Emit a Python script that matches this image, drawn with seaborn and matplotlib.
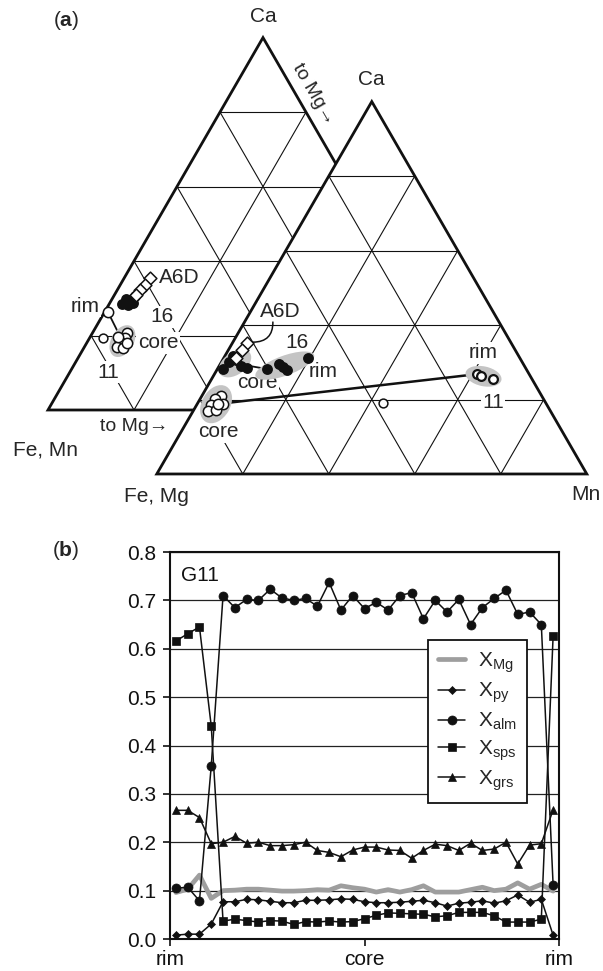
import numpy as np
import matplotlib
matplotlib.use("Agg")
import matplotlib.pyplot as plt
from matplotlib.patches import Polygon, Ellipse
import seaborn as sns

sns.set_theme(style="white")
plt.rcParams["font.family"] = ["Liberation Sans", "DejaVu Sans"]
plt.rcParams["mathtext.fontset"] = "custom"
plt.rcParams["mathtext.rm"] = "Liberation Sans"
plt.rcParams["mathtext.it"] = "Liberation Sans:italic"
plt.rcParams["mathtext.bf"] = "Liberation Sans:bold"

FS = 15
INK = "#111111"

# ---------------------------------------------------------------------------
# (b) garnet G11 profile, rim -> core -> rim
positions = list(range(33))
x_mg = [0.096, 0.103, 0.132, 0.084, 0.100, 0.101, 0.103, 0.103, 0.101, 0.099,
        0.099, 0.100, 0.102, 0.101, 0.110, 0.106, 0.103, 0.097, 0.102, 0.097,
        0.102, 0.110, 0.097, 0.097, 0.097, 0.102, 0.107, 0.100, 0.103, 0.116,
        0.103, 0.113, 0.099]
x_py = [0.008, 0.010, 0.010, 0.031, 0.077, 0.077, 0.082, 0.081, 0.078, 0.075,
        0.075, 0.080, 0.080, 0.081, 0.083, 0.082, 0.077, 0.075, 0.075, 0.076,
        0.078, 0.080, 0.075, 0.068, 0.074, 0.076, 0.079, 0.074, 0.079, 0.091,
        0.076, 0.082, 0.008]
x_alm = [0.105, 0.107, 0.079, 0.358, 0.710, 0.685, 0.702, 0.700, 0.723, 0.705,
         0.700, 0.704, 0.688, 0.737, 0.680, 0.710, 0.683, 0.696, 0.680, 0.710,
         0.716, 0.662, 0.700, 0.676, 0.702, 0.650, 0.685, 0.704, 0.721, 0.671,
         0.676, 0.650, 0.112]
x_sps = [0.616, 0.631, 0.645, 0.440, 0.037, 0.041, 0.038, 0.035, 0.038, 0.037,
         0.030, 0.036, 0.035, 0.037, 0.035, 0.036, 0.042, 0.049, 0.054, 0.053,
         0.052, 0.051, 0.046, 0.048, 0.055, 0.055, 0.055, 0.048, 0.035, 0.035,
         0.035, 0.041, 0.626]
x_grs = [0.266, 0.266, 0.251, 0.197, 0.200, 0.212, 0.198, 0.200, 0.193, 0.193,
         0.195, 0.200, 0.183, 0.179, 0.170, 0.184, 0.190, 0.190, 0.184, 0.183,
         0.167, 0.183, 0.196, 0.193, 0.183, 0.198, 0.183, 0.186, 0.200, 0.155,
         0.194, 0.197, 0.267]
profile_labels = ["rim", "core", "rim"]
y_ticks = [0.0, 0.1, 0.2, 0.3, 0.4, 0.5, 0.6, 0.7, 0.8]

# ---------------------------------------------------------------------------
# (a) ternary compositions as (Ca fraction, right-corner fraction)
# left diagram: Ca - (Fe, Mn) - Mg ; right diagram: Ca - (Fe, Mg) - Mn
l_a6d_ca = [0.354, 0.336, 0.322, 0.309]
l_a6d_r = [0.060, 0.058, 0.053, 0.050]
l_16_ca = [0.285, 0.282, 0.295, 0.306, 0.298, 0.287]
l_16_r = [0.030, 0.045, 0.045, 0.049, 0.032, 0.054]
l_rim_ca = [0.263]
l_rim_r = [0.008]
l_single_ca = [0.193]
l_single_r = [0.031]
l_core_ca = [0.207, 0.193, 0.183, 0.169, 0.167, 0.196, 0.180]
l_core_r = [0.080, 0.082, 0.076, 0.076, 0.091, 0.065, 0.094]

r_a6d_ca = [0.352, 0.333, 0.312]
r_a6d_r = [0.034, 0.032, 0.029]
r_16core_ca = [0.282, 0.301, 0.306, 0.290, 0.285, 0.317]
r_16core_r = [0.013, 0.018, 0.031, 0.051, 0.068, 0.019]
r_16rim_ca = [0.282, 0.295, 0.287, 0.279, 0.312]
r_16rim_r = [0.115, 0.137, 0.150, 0.163, 0.196]
r_11core_ca = [0.209, 0.201, 0.185, 0.169, 0.172, 0.188, 0.188]
r_11core_r = [0.045, 0.035, 0.034, 0.035, 0.052, 0.060, 0.048]
r_11rim_ca = [0.268, 0.264, 0.255]
r_11rim_r = [0.610, 0.622, 0.654]
r_single_ca = [0.191]
r_single_r = [0.431]

H = np.sqrt(3) / 2
ORIGIN_L = (0.0, 0.0)
ORIGIN_R = (0.253, -0.1488)


def tern(ca, r, origin):
    ca = np.asarray(ca, dtype=float)
    r = np.asarray(r, dtype=float)
    return origin[0] + r + ca / 2, origin[1] + ca * H


fig = plt.figure(figsize=(6.03, 9.71), dpi=100)

# ------------------------------- panel (a) ---------------------------------
ax_t = fig.add_axes([0, 1 - 520 / 971, 1, 520 / 971])
ax_t.set_xlim(-48 / 430, 555 / 430)
ax_t.set_ylim(-110 / 430, 410 / 430)
ax_t.axis("off")


def draw_triangle(origin, z):
    corners = np.array([tern(0, 0, origin), tern(0, 1, origin), tern(1, 0, origin)])
    ax_t.add_patch(Polygon(corners, closed=True, facecolor="white",
                           edgecolor="none", zorder=z))
    for k in range(1, 5):
        f = k / 5
        for (a1, r1), (a2, r2) in [((f, 0), (f, 1 - f)),
                                   ((0, f), (1 - f, f)),
                                   ((0, 1 - f), (1 - f, 0))]:
            x1, y1 = tern(a1, r1, origin)
            x2, y2 = tern(a2, r2, origin)
            ax_t.plot([x1, x2], [y1, y2], color=INK, lw=0.8, zorder=z + 0.1)
    ax_t.add_patch(Polygon(corners, closed=True, facecolor="none",
                           edgecolor=INK, lw=2.0, joinstyle="miter",
                           zorder=z + 0.2))
    return corners


def halo(ca, r, origin, w, h, ang, z):
    x, y = tern(ca, r, origin)
    ax_t.add_patch(Ellipse((x.mean(), y.mean()), w, h, angle=ang,
                           facecolor="#c4c4c4", edgecolor="none", zorder=z))


def pts(ca, r, origin, marker, face, s, z, lw=1.1):
    x, y = tern(ca, r, origin)
    sns.scatterplot(x=x, y=y, ax=ax_t, marker=marker, s=s, color=face,
                    edgecolor=INK, linewidth=lw, zorder=z, legend=False)


def label(txt, ca, r, origin, z, **kw):
    x, y = tern(ca, r, origin)
    ax_t.text(x, y, txt, fontsize=FS, ha="center", va="center", zorder=z,
              bbox=dict(facecolor="white", edgecolor="none", pad=1), **kw)


# left diagram
cl = draw_triangle(ORIGIN_L, 1)
for txt, ca, r in [("A6D", 0.3545, 0.1275), ("rim", 0.279, -0.054),
                   ("16", 0.250, 0.140), ("core", 0.180, 0.166),
                   ("11", 0.102, 0.089)]:
    label(txt, ca, r, ORIGIN_L, 1.5)
halo(l_core_ca, l_core_r, ORIGIN_L, 0.080, 0.052, 60, 1.6)
xr, yr = tern(l_rim_ca, l_rim_r, ORIGIN_L)
xc, yc = tern(l_core_ca, l_core_r, ORIGIN_L)
ax_t.plot([xr[0], xc.mean()], [yr[0], yc.mean()], color=INK, lw=1.3, zorder=1.55)
pts(l_16_ca, l_16_r, ORIGIN_L, "o", INK, 45, 1.8)
pts(l_a6d_ca, l_a6d_r, ORIGIN_L, "D", "white", 42, 1.85)
pts(l_rim_ca, l_rim_r, ORIGIN_L, "o", "white", 55, 1.8)
pts(l_single_ca, l_single_r, ORIGIN_L, "o", "white", 40, 1.8)
pts(l_core_ca, l_core_r, ORIGIN_L, "o", "white", 55, 1.8)

ax_t.annotate("Ca", xy=cl[2], xytext=(0, 15), textcoords="offset points",
              ha="center", va="center", fontsize=FS)
ax_t.annotate("Fe, Mn", xy=cl[0], xytext=(-2, -29), textcoords="offset points",
              ha="center", va="center", fontsize=FS)
ax_t.annotate("to Mg\u2192", xy=cl[0], xytext=(62, -12), textcoords="offset points",
              ha="center", va="center", fontsize=FS - 1)
ax_t.annotate("to Mg\u2192", xy=cl[2], xytext=(36, -41), textcoords="offset points",
              ha="center", va="center", fontsize=FS - 1, rotation=-60,
              rotation_mode="anchor")

# right diagram
cr = draw_triangle(ORIGIN_R, 3)
for txt, ca, r in [("A6D", 0.435, 0.069), ("16", 0.354, 0.149),
                   ("rim", 0.274, 0.250), ("core", 0.247, 0.110),
                   ("core", 0.113, 0.086), ("rim", 0.325, 0.596),
                   ("11", 0.193, 0.685)]:
    label(txt, ca, r, ORIGIN_R, 3.5)

halo(r_16core_ca, r_16core_r, ORIGIN_R, 0.085, 0.052, 35, 3.6)
halo(r_16rim_ca, r_16rim_r, ORIGIN_R, 0.145, 0.046, 20, 3.6)
halo(r_11core_ca, r_11core_r, ORIGIN_R, 0.095, 0.066, 60, 3.6)
halo(r_11rim_ca, r_11rim_r, ORIGIN_R, 0.085, 0.046, -12, 3.6)

x1, y1 = tern(r_16core_ca, r_16core_r, ORIGIN_R)
x2, y2 = tern(r_16rim_ca, r_16rim_r, ORIGIN_R)
ax_t.plot([x1.mean(), x2[0]], [y1.mean(), y2[0]], color=INK, lw=1.3, zorder=3.55)
x1, y1 = tern(r_11core_ca, r_11core_r, ORIGIN_R)
x2, y2 = tern(r_11rim_ca, r_11rim_r, ORIGIN_R)
ax_t.plot([x1.mean(), x2[0]], [y1.mean(), y2[0]], color=INK, lw=1.8, zorder=3.55)

pts(r_16core_ca, r_16core_r, ORIGIN_R, "o", INK, 45, 3.8)
pts(r_a6d_ca, r_a6d_r, ORIGIN_R, "D", "white", 42, 3.85)
pts(r_16rim_ca, r_16rim_r, ORIGIN_R, "o", INK, 45, 3.8)
pts(r_11core_ca, r_11core_r, ORIGIN_R, "o", "white", 55, 3.8)
pts(r_11rim_ca, r_11rim_r, ORIGIN_R, "o", "white", 40, 3.8, lw=1.6)
pts(r_single_ca, r_single_r, ORIGIN_R, "o", "white", 40, 3.8)

xa, ya = tern(0.408, 0.066, ORIGIN_R)
xb, yb = tern(0.354, 0.047, ORIGIN_R)
ax_t.annotate("", xy=(xb, yb), xytext=(xa, ya), zorder=3.9,
              arrowprops=dict(arrowstyle="-", color=INK, lw=1.1,
                              connectionstyle="arc3,rad=-0.5",
                              shrinkA=0, shrinkB=0))

ax_t.annotate("Ca", xy=cr[2], xytext=(0, 16), textcoords="offset points",
              ha="center", va="center", fontsize=FS)
ax_t.annotate("Fe, Mg", xy=cr[0], xytext=(0, -16), textcoords="offset points",
              ha="center", va="center", fontsize=FS)
ax_t.annotate("Mn", xy=cr[1], xytext=(-1, -15), textcoords="offset points",
              ha="center", va="center", fontsize=FS)

fig.text(66 / 603, 1 - 21 / 971, r"($\mathbf{a}$)", fontsize=FS,
         ha="center", va="center")

# ------------------------------- panel (b) ---------------------------------
ax = fig.add_axes([170 / 603, 1 - 939 / 971, 389 / 603, 387 / 971])
ax.set_axisbelow(True)
ax.yaxis.grid(True, color="#222222", lw=0.9)

series = [
    (x_mg, r"X$_\mathregular{Mg}$", dict(color="#9e9e9e", lw=3.4)),
    (x_py, r"X$_\mathregular{py}$", dict(color=INK, lw=1.1, marker="D",
                                          markersize=4.2)),
    (x_alm, r"X$_\mathregular{alm}$", dict(color=INK, lw=1.1, marker="o",
                                            markersize=6.5)),
    (x_sps, r"X$_\mathregular{sps}$", dict(color=INK, lw=1.1, marker="s",
                                            markersize=6.3)),
    (x_grs, r"X$_\mathregular{grs}$", dict(color=INK, lw=1.1, marker="^",
                                            markersize=6.3)),
]
for vals, name, style in series:
    extra = {}
    if "marker" in style:
        extra = dict(markeredgecolor=INK, markerfacecolor=INK,
                     markeredgewidth=0.5)
    sns.lineplot(x=positions, y=vals, ax=ax, label=name, **style, **extra)

ax.set_xlim(-0.5, 32.5)
ax.set_ylim(0, 0.8)
ax.set_yticks(y_ticks)
ax.set_yticklabels([f"{v:.1f}" for v in y_ticks])
ax.set_xticks([-0.5, 16, 32.5])
ax.set_xticklabels(profile_labels)
ax.xaxis.get_major_ticks()[1].tick1line.set_visible(False)
ax.tick_params(axis="both", labelsize=FS, colors=INK, direction="out",
               length=5, width=1.2, bottom=True, left=True)
ax.tick_params(axis="y", pad=5)
ax.tick_params(axis="x", pad=3)
ax.set_xlabel("")
ax.set_ylabel("")
for side in ["left", "bottom", "top", "right"]:
    ax.spines[side].set_visible(True)
    ax.spines[side].set_color(INK)
    ax.spines[side].set_linewidth(1.5)

leg = ax.legend(loc="upper left", bbox_to_anchor=(0.663, 0.7726),
                borderaxespad=0, fontsize=FS, frameon=True, fancybox=False,
                framealpha=1, edgecolor=INK, handlelength=1.3,
                handletextpad=0.6, labelspacing=0.28, borderpad=0.5)
leg.get_frame().set_linewidth(1.3)

ax.text(0.027, 0.94, "G11", transform=ax.transAxes, fontsize=FS,
        ha="left", va="center", color=INK)
fig.text(66 / 603, 1 - 550 / 971, r"($\mathbf{b}$)", fontsize=FS,
         ha="center", va="center")

fig.savefig("out.png", dpi=100)
